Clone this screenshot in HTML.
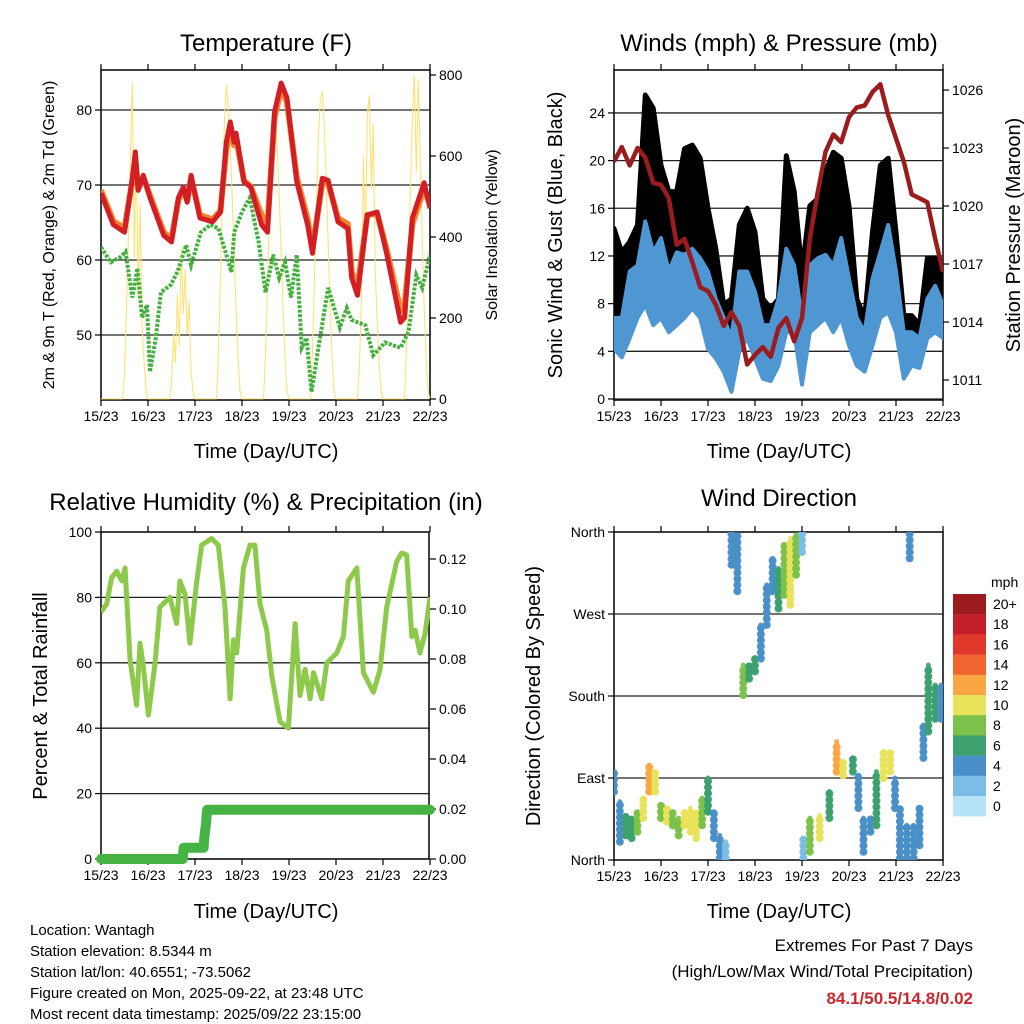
<!DOCTYPE html>
<html><head><meta charset="utf-8"><style>
html,body{margin:0;padding:0;background:#fff;}
svg{display:block;font-family:"Liberation Sans",Arial,sans-serif;}
</style></head><body>
<svg id="c" width="1024" height="1024" viewBox="0 0 1024 1024" xmlns="http://www.w3.org/2000/svg">
<defs>
<clipPath id="cp1"><rect x="101" y="70" width="329" height="330"/></clipPath>
<clipPath id="cp2"><rect x="614" y="70" width="329" height="330"/></clipPath>
<clipPath id="cp3"><rect x="101" y="532" width="329" height="328"/></clipPath>
<clipPath id="cp4"><rect x="614" y="532" width="329" height="328"/></clipPath>
</defs>
<g id="root"></g>
<text x="266" y="51" font-size="24" text-anchor="middle">Temperature (F)</text>
<text x="779" y="51" font-size="24" text-anchor="middle">Winds (mph) &amp; Pressure (mb)</text>
<text x="266" y="510" font-size="24" text-anchor="middle">Relative Humidity (%) &amp; Precipitation (in)</text>
<text x="779" y="506" font-size="24" text-anchor="middle">Wind Direction</text>
<text x="266" y="458" font-size="20" text-anchor="middle">Time (Day/UTC)</text>
<text x="779" y="458" font-size="20" text-anchor="middle">Time (Day/UTC)</text>
<text x="266" y="918" font-size="20" text-anchor="middle">Time (Day/UTC)</text>
<text x="779" y="918" font-size="20" text-anchor="middle">Time (Day/UTC)</text>
<text transform="translate(54,235) rotate(-90)" font-size="16" text-anchor="middle">2m &amp; 9m T (Red, Orange) &amp; 2m Td (Green)</text>
<text transform="translate(497,235) rotate(-90)" font-size="16" text-anchor="middle">Solar Insolation (Yellow)</text>
<text transform="translate(562,235) rotate(-90)" font-size="20" text-anchor="middle">Sonic Wind &amp; Gust (Blue, Black)</text>
<text transform="translate(1020,235) rotate(-90)" font-size="20" text-anchor="middle">Station Pressure (Maroon)</text>
<text transform="translate(47,696) rotate(-90)" font-size="20" text-anchor="middle">Percent &amp; Total Rainfall</text>
<text transform="translate(540,696) rotate(-90)" font-size="20" text-anchor="middle">Direction (Colored By Speed)</text>
<g font-size="15">
<text x="30" y="935">Location: Wantagh</text>
<text x="30" y="956">Station elevation: 8.5344 m</text>
<text x="30" y="977">Station lat/lon: 40.6551; -73.5062</text>
<text x="30" y="998">Figure created on Mon, 2025-09-22, at 23:48 UTC</text>
<text x="30" y="1019">Most recent data timestamp: 2025/09/22 23:15:00</text>
</g>
<g font-size="17" text-anchor="end">
<text x="973" y="951">Extremes For Past 7 Days</text>
<text x="973" y="977">(High/Low/Max Wind/Total Precipitation)</text>
<text x="973" y="1004" font-weight="bold" fill="#c8282e">84.1/50.5/14.8/0.02</text>
</g>
</svg>
<script>
// ---------- data ----------
const dayLabels=["15/23","16/23","17/23","18/23","19/23","20/23","21/23","22/23"];
const tTimes=[0,6.3,12,16,17.5,19,21.6,25,32,36,39.5,42,44,46,50.5,57,61,64,66,68,69,73,76.5,82,85,88.6,92,95,100,105.5,108,113,116,121,126,128,131,136,141,146,153,155,159,165,168];
const temp2m=[68.9,64.7,63.7,70.9,74.4,69.3,71.3,68.3,63.3,62.4,68.3,69.7,67.7,71.3,65.6,65.1,66.4,75.7,78.4,75.7,76.9,70.4,69.7,64.7,63.7,79.7,83.6,81.6,70.4,64.7,60.9,70.9,70.6,65.1,64.2,57.6,55.3,66.0,66.4,60.7,51.7,52.3,65.6,70.3,66.9];
const temp9m=[69.3,65.2,64.2,70.5,73.5,69.5,71.0,68.6,63.7,62.8,68.0,69.5,67.9,70.9,66.0,65.4,66.6,74.8,77.5,75.3,76.2,70.6,69.8,66.0,64.8,78.9,82.9,81.0,71.0,65.5,61.5,70.3,70.2,65.6,64.8,58.4,56.4,66.0,66.2,61.3,53.3,53.8,64.8,69.6,67.3];
const tdTimes=[0,5,10,12.5,16,18.6,21,23.5,25,28,30.6,35.7,39,43.5,46,51,56,60,64,66.6,68,72,76,80.5,84,88,91,94,97,100,102.5,105,107.5,111,116,122,125.5,128,135,139,145,153,157,161,164,168];
const dewpt=[61.7,59.7,60.4,61.1,55.0,58.9,52.3,54.0,45.1,49.6,55.7,56.7,58.4,62.0,59.3,63.7,64.7,64.2,60.7,58.4,63.7,66.4,68.3,62.4,55.7,60.7,57.6,59.7,55.0,60.7,48.3,49.6,42.4,48.3,56.3,51.0,53.6,52.0,51.3,47.3,49.0,48.3,50.4,58.0,56.3,60.7];
const solarDays=[
[60,220,400,600,780,350,620,250,480,180,90,20],
[40,160,90,260,130,370,210,320,160,240,70,15],
[120,300,500,680,775,720,620,500,360,220,100,20],
[110,280,460,620,720,700,620,500,360,220,100,20],
[120,300,480,640,740,760,680,540,380,230,100,20],
[90,250,600,350,700,750,520,680,320,200,90,20],
[130,320,520,700,800,560,790,600,400,230,100,20]];
const gustHi=[14.3,12.3,13.2,14.6,25.5,24.4,19.6,17.4,17.4,21.0,21.3,20.2,16.0,12.6,7.9,8.4,14.6,16.0,14.0,8.4,7.6,8.4,20.4,17.4,10.7,16.2,16.8,19.1,20.7,20.2,16.2,8.4,6.8,14.0,19.6,20.2,14.0,7.0,7.0,6.2,11.8,11.8,10.1];
const gustLo=[6.8,6.2,7.9,8.4,10.7,11.2,10.7,10.1,10.7,12.3,12.9,10.7,8.4,6.8,4.5,4.0,9.0,9.5,7.3,4.0,2.8,3.4,10.1,9.0,4.0,9.5,9.8,11.2,11.8,12.3,9.0,5.1,4.0,8.4,11.2,11.8,8.4,4.5,4.5,4.0,7.9,8.4,7.9];
const windHi=[6.8,6.8,10.7,11.2,14.9,12.3,13.5,10.7,12.3,12.1,12.6,11.8,10.7,8.4,6.8,5.1,10.7,10.7,9.0,6.2,6.2,8.4,12.6,11.2,6.8,11.2,11.8,12.1,11.2,13.5,10.1,6.8,5.6,10.1,12.3,14.6,10.7,5.6,5.6,5.1,8.4,9.5,7.9];
const windLo=[4.2,3.5,5.1,6.8,7.9,6.2,6.8,5.6,6.2,6.8,7.6,6.8,4.2,3.4,2.3,0.6,4.0,5.1,3.4,1.7,1.5,2.8,5.6,5.6,1.2,5.6,6.2,6.8,5.6,6.8,4.5,2.8,2.3,4.5,6.8,7.3,5.6,1.7,2.8,2.6,5.1,5.6,5.1];
const pressure=[1022.3,1023.05,1022.1,1023.0,1022.5,1021.2,1021.1,1020.4,1018.0,1018.3,1017.1,1015.8,1015.6,1014.9,1013.8,1014.5,1013.8,1011.8,1012.3,1012.7,1012.2,1013.7,1014.2,1013.0,1014.2,1018.3,1020.7,1022.8,1023.7,1023.3,1024.6,1025.1,1025.2,1025.9,1026.3,1024.7,1023.5,1022.3,1020.6,1020.4,1020.2,1018.3,1016.6];
const rhTimes=[0,2.9,5.4,8.0,10.6,12.3,14.8,18.2,19.9,21.6,24.2,27.6,30.1,35.2,38.6,40.3,42.9,45.4,48.9,51.4,56.5,59.9,63.3,65.9,67.6,69.3,72.7,76.1,78.6,81.2,84.6,87.2,91.4,95.7,99.1,101.6,104.2,106.8,108.5,112.7,115.3,120.4,123.8,126.3,130.6,134.0,139.1,142.5,145.9,151.0,153.6,156.1,158.7,160.4,162.9,165.5,168];
const rhVals=[75.5,78,86,88,85,89,61,47,66,59,44,60,77,80,72,85,81,66,85,96,98,96,77,49,67,63,89,96,96,78,70,56,42,40,72,50,58,49,57,49,60,63,68,85,89,57,51,58,77,91,93.6,93,68,70,63,69,80];
const prTimes=[0,41.8,42.2,52.4,52.8,53.6,54.2,168];
const prVals=[0,0,0.0045,0.0045,0.009,0.014,0.0197,0.0197];
const dirTimes=[0,3,6,9,12,15,18,21,24,27,30,33,36,39,42,45,48,51,54,57,60,63,66,69,72,75,78,81,84,87,90,93,96,96.7,100,105,110,113.7,117,122,124.8,127.4,131,134,137.6,141,143.5,146,149.5,151,153,156,158,160.5,164,167];
const dirLo=[75,20,27,24,31,46,75,75,46,42,38,27,38,31,24,38,53,24,2,2,324,295,181,199,207,221,258,295,276,291,280,313,338,2,9,24,46,97,93,97,57,9,31,38,90,97,57,2,2,331,2,16,112,141,155,155];
const dirHi=[97,64,49,46,53,68,104,97,60,57,53,46,53,57,53,68,90,53,27,20,360,357,214,214,221,258,302,331,320,346,353,357,360,24,46,49,75,130,108,112,93,46,46,97,119,119,90,57,38,360,38,57,148,214,192,192];
const dirSpeed=[5,4,6,7,8,11,13,10,8,10,9,8,11,11,10,9,7,4,4,3,4,4,9,7,6,4,4,4,6,8,10,8,3,3,8,10,7,13,11,6,4,4,5,7,11,11,5,4,4,4,4,4,5,6,6,5];
const speedLabels=["20+","18","16","14","12","10","8","6","4","2","0"];
const speedColors=["#b6e3f8","#7bbde6","#4a90c8","#3da16f","#7cc24a","#e8e35a","#f9a643","#f26530","#e0392b","#c1202a","#9b1b1e"];

// ---------- helpers ----------
const NS="http://www.w3.org/2000/svg";
const root=document.getElementById('root');
function mk(tag,attrs,parent){const e=document.createElementNS(NS,tag);for(const k in attrs)e.setAttribute(k,attrs[k]);(parent||root).appendChild(e);return e;}
function pts(xs,ys,fx,fy){return xs.map((x,i)=>fx(x).toFixed(1)+','+fy(ys[i]).toFixed(1)).join(' ');}
const HW=329/168;
function frame(x0,y0,w,h,name){
  const g=mk('g',{});
  
  
  const r=mk('rect',{x:x0,y:y0,width:w,height:h,fill:'none',stroke:'#000','stroke-width':1.5},g);
  
  
  for(let d=0;d<8;d++){
    const x=x0+d*24*HW;
    mk('line',{x1:x,y1:y0+h,x2:x,y2:y0+h+6,stroke:'#000','stroke-width':1.2},g);
    mk('line',{x1:x,y1:y0,x2:x,y2:y0-6,stroke:'#000','stroke-width':1.2},g);
    const t=mk('text',{x:x,y:y0+h+21,'font-size':14,'text-anchor':'middle'},g);
    
    
    t.textContent=dayLabels[d];
  }
  return g;
}
function yTicks(g,vals,fy,x,side,labels,grid,x0,w){
  vals.forEach((v,i)=>{
    const y=fy(v);
    if(grid) mk('line',{x1:x0,y1:y,x2:x0+w,y2:y,stroke:'#222','stroke-width':1.3},g);
    mk('line',{x1:x,y1:y,x2:x+(side<0?-6:6),y2:y,stroke:'#000','stroke-width':1.2},g);
    const t=mk('text',{x:x+(side<0?-9:9),y:y+5,'font-size':14,'text-anchor':side<0?'end':'start'},g);
    
    
    t.textContent=labels[i];
  });
}

// ---------- Panel 1: temperature ----------
(function(){
  const x=h=>101+h*HW, yT=v=>110+(80-v)*7.5, yS=v=>399-v*0.405;
  const g=frame(101,70,329,330,'temperature');
  yTicks(g,[50,60,70,80],yT,101,-1,["50","60","70","80"],true,101,329);
  yTicks(g,[0,200,400,600,800],yS,430,1,["0","200","400","600","800"],false);
  const c=mk('g',{'clip-path':'url(#cp1)'});
  const sh=[],sv=[];
  solarDays.forEach((d,di)=>{for(let i=0;i<12;i++){sh.push(di*24+i);sv.push(0);}d.forEach((v,i)=>{sh.push(di*24+12+i);sv.push(v);});});
  sh.push(168);sv.push(0);
  let p=mk('polyline',{points:pts(sh,sv,x,yS),fill:'none',stroke:'#ffe274','stroke-width':1.1},c);
  
  p=mk('polyline',{points:pts(tdTimes,dewpt,x,yT),fill:'none',stroke:'#45b040','stroke-width':4,'stroke-dasharray':'3 1.5'},c);
  
  p=mk('polyline',{points:pts(tTimes,temp9m,x,yT),fill:'none',stroke:'#f5822a','stroke-width':6,'stroke-linejoin':'round'},c);
  
  p=mk('polyline',{points:pts(tTimes,temp2m,x,yT),fill:'none',stroke:'#d21f26','stroke-width':5,'stroke-linejoin':'round'},c);
  
})();

// ---------- Panel 2: winds ----------
(function(){
  const x=h=>614+h*HW, yW=v=>399-v*11.92, yP=v=>380-(v-1011)*19.33;
  const g=frame(614,70,329,330,'winds');
  yTicks(g,[0,4,8,12,16,20,24],yW,614,-1,["0","4","8","12","16","20","24"],true,614,329);
  yTicks(g,[1011,1014,1017,1020,1023,1026],yP,943,1,["1011","1014","1017","1020","1023","1026"],false);
  const c=mk('g',{'clip-path':'url(#cp2)'});
  const hrs=gustHi.map((_,i)=>i*4);
  const band=(hi,lo)=>pts(hrs,hi,x,yW)+' '+pts(hrs.slice().reverse(),lo.slice().reverse(),x,yW);
  let p=mk('polygon',{points:band(gustHi,gustLo),fill:'#000',stroke:'#000','stroke-width':5,'stroke-linejoin':'round'},c);
  
  p=mk('polygon',{points:band(windHi,windLo),fill:'#4f97d3',stroke:'#4f97d3','stroke-width':4,'stroke-linejoin':'round'},c);
  
  p=mk('polyline',{points:pts(hrs,pressure,x,yP),fill:'none',stroke:'#9a1c1f','stroke-width':4.5,'stroke-linejoin':'round'},c);
  
})();

// ---------- Panel 3: RH & precip ----------
(function(){
  const x=h=>101+h*HW, yR=v=>859-v*3.27, yPr=v=>859-v*2500;
  const g=frame(101,532,328,327,'humidity');
  yTicks(g,[0,20,40,60,80,100],yR,101,-1,["0","20","40","60","80","100"],false);
  [20,40,60,80].forEach(v=>mk('line',{x1:101,y1:yR(v),x2:430,y2:yR(v),stroke:'#222','stroke-width':1.3},g));
  yTicks(g,[0,0.02,0.04,0.06,0.08,0.10,0.12],yPr,430,1,["0.00","0.02","0.04","0.06","0.08","0.10","0.12"],false);
  const c=mk('g',{'clip-path':'url(#cp3)'});
  let p=mk('polyline',{points:pts(rhTimes,rhVals,x,yR),fill:'none',stroke:'#8dc94a','stroke-width':5,'stroke-linejoin':'round'},c);
  
  p=mk('polyline',{points:pts(prTimes,prVals,x,yPr),fill:'none',stroke:'#45b445','stroke-width':10,'stroke-linejoin':'round','stroke-linecap':'round'},root);
  
})();

// ---------- Panel 4: wind direction ----------
(function(){
  const x=h=>614+h*HW, yD=d=>860-d*328/360;
  const g=frame(614,532,329,328,'direction');
  yTicks(g,[0,90,180,270,360],yD,614,-1,["North","East","South","West","North"],false);
  [90,180,270].forEach(v=>mk('line',{x1:614,y1:yD(v),x2:943,y2:yD(v),stroke:'#222','stroke-width':1.3},g));
  const c=mk('g',{'clip-path':'url(#cp4)'});
  dirTimes.forEach((h,i)=>{
    const col=speedColors[Math.min(10,Math.floor(dirSpeed[i]/2))];
    const l=mk('line',{x1:x(h),y1:yD(dirLo[i]),x2:x(h),y2:yD(dirHi[i]),stroke:col,'stroke-width':8,'stroke-linecap':'round','stroke-dasharray':'0.1 6',opacity:0.95},c);
    
    
    const l2=mk('line',{x1:x(h),y1:yD(dirLo[i]),x2:x(h),y2:yD(dirHi[i]),stroke:col,'stroke-width':5,'stroke-linecap':'round',opacity:0.9},c);
    
    
  });
  const lg=mk('g',{});
  
  
  const t=mk('text',{x:991,y:587,'font-size':14},lg);t.textContent='mph';
  speedLabels.forEach((lab,i)=>{
    const y=594+i*20.2;
    mk('rect',{x:953,y:y,width:33,height:20.4,fill:speedColors[10-i]},lg);
    const tt=mk('text',{x:993,y:y+15,'font-size':14},lg);
    
    
    tt.textContent=lab;
  });
})();
</script>
</body></html>
